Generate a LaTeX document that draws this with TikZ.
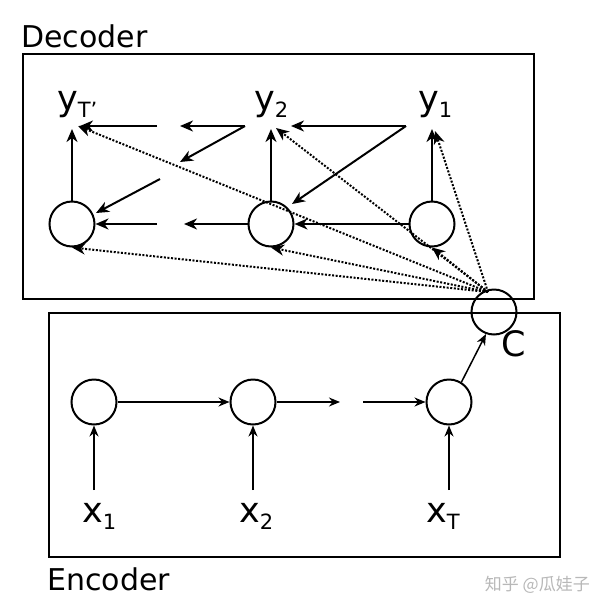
\documentclass[tikz,border=0pt]{standalone}
\usepackage{fontspec}
\setmainfont{DejaVu Sans}
\newfontfamily\cjk{Noto Sans CJK SC}
\usetikzlibrary{arrows.meta}
\tikzset{
  circ/.style={circle,draw,line width=2pt,minimum size=45pt,inner sep=0pt},
  lbl/.style={anchor=base west,inner sep=0pt,font=\fontsize{35}{35}\selectfont},
  ttl/.style={anchor=base west,inner sep=0pt,font=\fontsize{30}{30}\selectfont},
  arr/.style={line width=2pt,-{Stealth[length=13pt,width=11pt,inset=4pt]}},
  earr/.style={line width=1.5pt,-{Stealth[length=11pt,width=9pt,inset=3.5pt]}},
  dot/.style={line width=2pt,dash pattern=on 2pt off 1.6pt,-{Stealth[length=13pt,width=11pt,inset=4pt]}},
  frame/.style={line width=2pt}
}
\newcommand{\mysub}[1]{\raisebox{-7pt}{\fontsize{21}{21}\selectfont #1}}
\begin{document}
\begin{tikzpicture}[x=1pt,y=-1pt]
\useasboundingbox (0,0) rectangle (596,606);
\fill[white] (0,0) rectangle (596,606);
% boxes
\draw[frame] (23,54) rectangle (534,299);
\draw[frame] (49,313) rectangle (560,557);
\node[ttl] (dec) at (21,47) {Decoder};
\node[ttl] (enc) at (47,590) {Encoder};
\node[anchor=base east,inner sep=0pt,text=black!28,font=\cjk\fontsize{17}{17}\selectfont] (wm) at (590,590) {知乎 @瓜娃子};
% decoder nodes
\node[circ] (h3) at (72,224) {};
\node[circ] (h2) at (271,224) {};
\node[circ] (h1) at (432,224) {};
\node[lbl] (yT) at (57,110) {y\mysub{T\char39}};
\node[lbl] (y2) at (254,110) {y\mysub{2}};
\node[lbl] (y1) at (418,110) {y\mysub{1}};
% context
\node[circ] (C) at (494,312) {};
\node[lbl] (clbl) at (501,356) {C};
% encoder nodes
\node[circ] (e1) at (94,402) {};
\node[circ] (e2) at (253,402) {};
\node[circ] (e3) at (449,402) {};
\node[lbl] (x1) at (82,522) {x\mysub{1}};
\node[lbl] (x2) at (239,522) {x\mysub{2}};
\node[lbl] (xT) at (426,522) {x\mysub{T}};
% coordinates
\coordinate (yTb) at (72,129);
\coordinate (y2b) at (271,129);
\coordinate (y1b) at (432,129);
\coordinate (y1L) at (406,126);
\coordinate (y2R) at (291,126);
\coordinate (y2L) at (245,126);
\coordinate (gA) at (180,126);
\coordinate (gB) at (157,126);
\coordinate (yTR) at (80,126);
\coordinate (gC) at (180,162);
\coordinate (gD) at (160,179);
\coordinate (gE) at (184,224);
\coordinate (gF) at (157,224);
\coordinate (yTd) at (78,126);
\coordinate (y2d) at (276,128);
\coordinate (y1d) at (435,131);
\coordinate (Cs) at (488,292);
\coordinate (x1t) at (94,490);
\coordinate (x2t) at (253,490);
\coordinate (xTt) at (449,490);
\coordinate (eg1) at (340,402);
\coordinate (eg2) at (363,402);
% decoder arrows
\draw[arr] (h3.north) -- (yTb);
\draw[arr] (h2.north) -- (y2b);
\draw[arr] (h1.north) -- (y1b);
\draw[arr] (y1L) -- (y2R);
\draw[arr] (y2L) -- (gA);
\draw[arr] (gB) -- (yTR);
\draw[arr] (y2L) -- (gC);
\draw[arr] (gD) -- (96,213);
\draw[arr] (y1L) -- (292,204);
\draw[arr] (h1.west) -- (h2.east);
\draw[arr] (h2.west) -- (gE);
\draw[arr] (gF) -- (h3.east);
% dotted attention arrows
\draw[dot] (Cs) -- (yTd);
\draw[dot] (Cs) -- (y2d);
\draw[dot] (Cs) -- (y1d);
\draw[dot] (Cs) -- (h3.south);
\draw[dot] (Cs) -- (h2.south);
\draw[dot] (Cs) -- (h1.south);
% encoder arrows
\draw[earr] (x1t) -- (e1.south);
\draw[earr] (x2t) -- (e2.south);
\draw[earr] (xTt) -- (e3.south);
\draw[earr] (e1.east) -- (e2.west);
\draw[earr] (e2.east) -- (eg1);
\draw[earr] (eg2) -- (e3.west);
\draw[earr] (e3.58) -- (C.250);
\end{tikzpicture}
\end{document}
